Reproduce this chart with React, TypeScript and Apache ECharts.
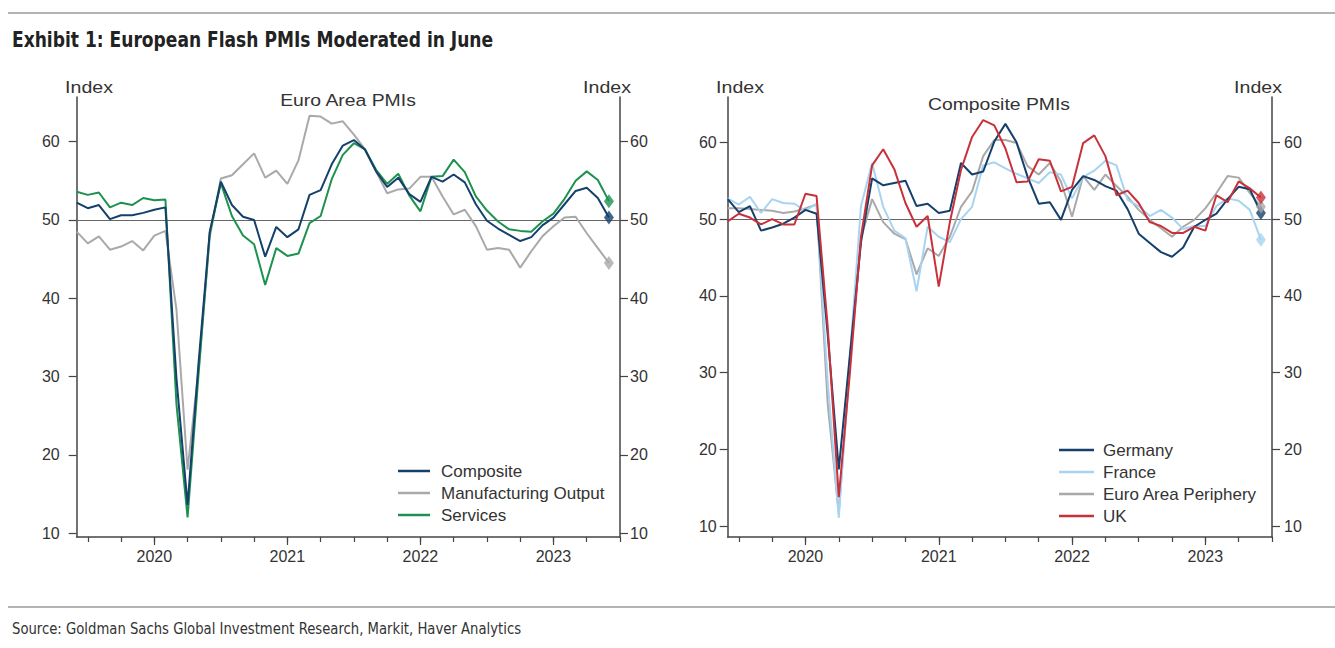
import React, { useEffect, useRef } from "react";
import * as echarts from "echarts";

// Monthly categories: Jun 2019 .. Jul 2023
const months: string[] = (() => {
  const out: string[] = [];
  for (let k = 0; k < 50; k++) {
    const m = 5 + k;
    const y = 2019 + Math.floor(m / 12);
    const mm = (m % 12) + 1;
    out.push(`${y}-${String(mm).padStart(2, "0")}`);
  }
  return out;
})();

const yTicks = [10, 20, 30, 40, 50, 60];

// Euro Area PMIs (Jun 2019 .. Jun 2023)
const composite = [
  52.2, 51.5, 51.9, 50.1, 50.6, 50.6, 50.9,
  51.3, 51.6, 29.7, 13.6, 31.9, 48.5, 54.9, 51.9, 50.4, 50.0, 45.3, 49.1,
  47.8, 48.8, 53.2, 53.8, 57.1, 59.5, 60.2, 59.0, 56.2, 54.2, 55.4, 53.3,
  52.3, 55.5, 54.9, 55.8, 54.8, 52.0, 49.9, 48.9, 48.1, 47.3, 47.8, 49.3,
  50.3, 52.0, 53.7, 54.1, 52.8, 50.3,
];
const manufacturingOutput = [
  48.5, 47.0, 47.9, 46.2, 46.6, 47.3, 46.1,
  48.0, 48.6, 38.5, 18.1, 31.0, 47.8, 55.3, 55.7, 57.1, 58.5, 55.4, 56.3,
  54.6, 57.6, 63.3, 63.2, 62.3, 62.6, 60.9, 59.0, 56.2, 53.4, 53.9, 54.0,
  55.5, 55.5, 53.0, 50.7, 51.3, 49.2, 46.2, 46.4, 46.2, 43.9, 46.0, 47.9,
  49.2, 50.3, 50.4, 48.3, 46.4, 44.5,
];
const services = [
  53.6, 53.2, 53.5, 51.6, 52.2, 51.9, 52.8,
  52.5, 52.6, 26.4, 12.0, 30.5, 48.3, 54.7, 50.5, 48.0, 46.9, 41.7, 46.4,
  45.4, 45.7, 49.6, 50.5, 55.2, 58.3, 59.8, 59.0, 56.4, 54.6, 55.9, 53.1,
  51.1, 55.5, 55.6, 57.7, 56.1, 53.0, 51.2, 49.8, 48.8, 48.6, 48.5, 49.8,
  50.8, 52.7, 55.0, 56.2, 55.1, 52.4,
];

// Composite PMIs by country (Jun 2019 .. Jun 2023)
const germany = [
  52.6, 50.9, 51.7, 48.5, 48.9, 49.4, 50.2,
  51.2, 50.7, 35.0, 17.4, 32.3, 47.0, 55.3, 54.4, 54.7, 55.0, 51.7, 52.0,
  50.8, 51.1, 57.3, 55.8, 56.2, 60.1, 62.4, 60.0, 55.5, 52.0, 52.2, 49.9,
  53.8, 55.6, 55.1, 54.3, 53.7, 51.3, 48.1, 46.9, 45.7, 45.1, 46.3, 49.0,
  49.9, 50.7, 52.6, 54.2, 53.9, 50.8,
];
const france = [
  52.7, 51.9, 52.9, 50.8, 52.6, 52.1, 52.0,
  51.1, 52.0, 28.9, 11.1, 32.1, 51.7, 57.3, 51.6, 48.5, 47.5, 40.6, 49.0,
  47.7, 47.0, 50.0, 51.6, 57.0, 57.4, 56.6, 55.9, 55.3, 54.7, 56.1, 55.8,
  52.7, 55.5, 56.3, 57.6, 57.0, 52.5, 51.7, 50.4, 51.2, 50.2, 48.7, 49.1,
  49.1, 51.7, 52.7, 52.4, 51.2, 47.3,
];
const periphery = [
  51.4, 51.4, 51.3, 51.2, 51.1, 50.8, 51.0,
  51.4, 51.9, 26.0, 11.7, 31.0, 47.5, 52.6, 49.6, 48.1, 47.4, 42.8, 46.2,
  45.2, 47.7, 51.6, 53.6, 58.2, 60.3, 60.3, 59.9, 56.9, 55.8, 57.3, 54.9,
  50.3, 55.6, 53.8, 55.8, 54.3, 52.9, 51.2, 49.9, 48.8, 47.7, 49.0, 49.9,
  51.4, 53.4, 55.6, 55.4, 53.4, 51.6,
];
const uk = [
  49.7, 50.7, 50.2, 49.3, 50.0, 49.3, 49.3,
  53.3, 53.0, 36.0, 13.8, 30.0, 47.7, 57.0, 59.1, 56.5, 52.1, 49.0, 50.4,
  41.2, 49.6, 56.4, 60.7, 62.9, 62.2, 59.2, 54.8, 54.9, 57.8, 57.6, 53.6,
  54.2, 59.9, 60.9, 58.2, 53.1, 53.7, 52.1, 49.6, 49.1, 48.2, 48.2, 49.0,
  48.5, 53.1, 52.2, 54.9, 54.0, 52.8,
];

const NAVY = "#14406b";
const GREEN = "#1d9150";
const GRAY = "#a9a9a9";
const LIGHTBLUE = "#a8d4f2";
const RED = "#c9313a";
const AXIS = "#444";
const TXT = "#333";
const FONT = '"Liberation Sans", Arial, sans-serif';
const NARROW = '"Liberation Sans Narrow", "Arial Narrow", "DejaVu Sans Condensed", sans-serif';

const isQuarter = (_i: number, v: string) => /-(01|04|07|10)$/.test(v);
const isYear = (_i: number, v: string) => v.endsWith("-01");

function xAxes(grid: number) {
  return [
    {
      type: "category",
      gridIndex: grid,
      data: months,
      boundaryGap: false,
      position: "bottom",
      axisLine: { show: true, lineStyle: { color: AXIS, width: 1.5 } },
      axisTick: { show: true, interval: isQuarter, length: 5, lineStyle: { color: AXIS, width: 1.2 } },
      axisLabel: {
        interval: isYear,
        formatter: (v: string) => v.slice(0, 4),
        fontSize: 16,
        color: TXT,
        fontFamily: FONT,
        margin: 11,
      },
      splitLine: { show: false },
    },
    {
      type: "category",
      gridIndex: grid,
      data: months,
      boundaryGap: false,
      position: "bottom",
      axisLine: { show: false },
      axisTick: { show: true, interval: isYear, length: 8, lineStyle: { color: AXIS, width: 1.2 } },
      axisLabel: { show: false },
      splitLine: { show: false },
    },
  ];
}

function yAxes(grid: number, min: number, max: number, mL: number, mR: number) {
  const base = (pos: string, margin: number) => ({
    type: "value",
    gridIndex: grid,
    position: pos,
    min,
    max,
    axisLine: { show: true, lineStyle: { color: AXIS, width: 1.5 } },
    axisTick: { show: true, length: 8, customValues: yTicks, lineStyle: { color: AXIS, width: 1.2 } },
    axisLabel: { customValues: yTicks, fontSize: 16, color: TXT, fontFamily: FONT, margin },
    splitLine: { show: false },
  });
  return [base("left", mL), base("right", mR)];
}

function line(name: string, data: number[], color: string, axis: number, z: number, withRef = false) {
  const s: any = {
    type: "line",
    name,
    data,
    xAxisIndex: axis,
    yAxisIndex: axis,
    symbol: "none",
    lineStyle: { color, width: 2 },
    itemStyle: { color },
    z,
  };
  if (withRef) {
    s.markLine = {
      silent: true,
      symbol: "none",
      label: { show: false },
      lineStyle: { color: "#666", width: 1, type: "solid" },
      data: [{ yAxis: 50 }],
      z: 1,
    };
  }
  return s;
}

function last(name: string, data: number[], color: string, axis: number, z: number) {
  return {
    type: "scatter",
    name: name + " latest",
    data: [[data.length - 1, data[data.length - 1]]],
    xAxisIndex: axis,
    yAxisIndex: axis,
    symbol: "diamond",
    symbolSize: [10, 14],
    itemStyle: { color },
    z,
  };
}

function txt(text: string, x: number, y: number, opts: any = {}) {
  return {
    type: "text",
    x,
    y,
    scaleX: opts.scaleX || 1,
    silent: true,
    style: {
      text,
      fill: opts.fill || TXT,
      font: opts.font || `17px ${FONT}`,
      align: opts.align || "center",
      verticalAlign: "middle",
    },
  };
}

export default function App() {
  const ref = useRef<HTMLDivElement>(null);
  useEffect(() => {
    document.body.style.margin = "0";
    const chart = echarts.init(ref.current!, undefined, { renderer: "svg" });
    const legendText = { fontSize: 17, color: TXT, fontFamily: FONT, lineHeight: 22, padding: [0, 0, 0, 6] };
    chart.setOption({
      animation: false,
      backgroundColor: "#ffffff",
      grid: [
        { left: 76.7, top: 97, width: 543.3, height: 440 },
        { left: 727.7, top: 97, width: 544.3, height: 440 },
      ],
      xAxis: [...xAxes(0), ...xAxes(1)],
      yAxis: [...yAxes(0, 9.5, 65.7, 17, 10), ...yAxes(1, 8.6, 65.9, 11, 12)],
      legend: [
        {
          orient: "vertical",
          left: 393,
          top: 455,
          icon: "rect",
          itemWidth: 32,
          itemHeight: 2.5,
          itemGap: 0,
          data: ["Composite", "Manufacturing Output", "Services"],
          textStyle: legendText,
          selectedMode: false,
        },
        {
          orient: "vertical",
          left: 1054,
          top: 434,
          icon: "rect",
          itemWidth: 35,
          itemHeight: 2.5,
          itemGap: 0,
          data: ["Germany", "France", "Euro Area Periphery", "UK"],
          textStyle: { ...legendText, padding: [0, 0, 0, 4] },
          selectedMode: false,
        },
      ],
      series: [
        line("Manufacturing Output", manufacturingOutput, GRAY, 0, 3, true),
        line("Services", services, GREEN, 0, 4),
        line("Composite", composite, NAVY, 0, 5),
        last("Manufacturing Output", manufacturingOutput, GRAY, 0, 6),
        last("Services", services, GREEN, 0, 6),
        last("Composite", composite, NAVY, 0, 7),
        line("Euro Area Periphery", periphery, GRAY, 2, 3, true),
        line("France", france, LIGHTBLUE, 2, 4),
        line("Germany", germany, NAVY, 2, 5),
        line("UK", uk, RED, 2, 6),
        last("Germany", germany, NAVY, 2, 7),
        last("France", france, LIGHTBLUE, 2, 7),
        last("Euro Area Periphery", periphery, GRAY, 2, 8),
        last("UK", uk, RED, 2, 9),
      ],
      graphic: [
        { type: "line", silent: true, shape: { x1: 8, y1: 13, x2: 1335, y2: 13 }, style: { stroke: "#9a9a9a", lineWidth: 1.5 } },
        { type: "line", silent: true, shape: { x1: 8, y1: 607, x2: 1335, y2: 607 }, style: { stroke: "#9a9a9a", lineWidth: 1.5 } },
        txt("Exhibit 1: European Flash PMIs Moderated in June", 12, 40, {
          align: "left",
          font: `bold 21px ${NARROW}`,
          fill: "#222",
          scaleX: 0.905,
        }),
        txt("Source: Goldman Sachs Global Investment Research, Markit, Haver Analytics", 12, 629, {
          align: "left",
          font: `15px ${NARROW}`,
          scaleX: 0.98,
        }),
        txt("Index", 89, 87, { scaleX: 1.15 }),
        txt("Index", 607, 87, { scaleX: 1.15 }),
        txt("Index", 740, 87, { scaleX: 1.15 }),
        txt("Index", 1258, 87, { scaleX: 1.15 }),
        txt("Euro Area PMIs", 348, 100, { scaleX: 1.14 }),
        txt("Composite PMIs", 999, 104, { scaleX: 1.14 }),
      ],
    });
    return () => chart.dispose();
  }, []);
  return <div ref={ref} style={{ width: 1335, height: 648 }} />;
}
